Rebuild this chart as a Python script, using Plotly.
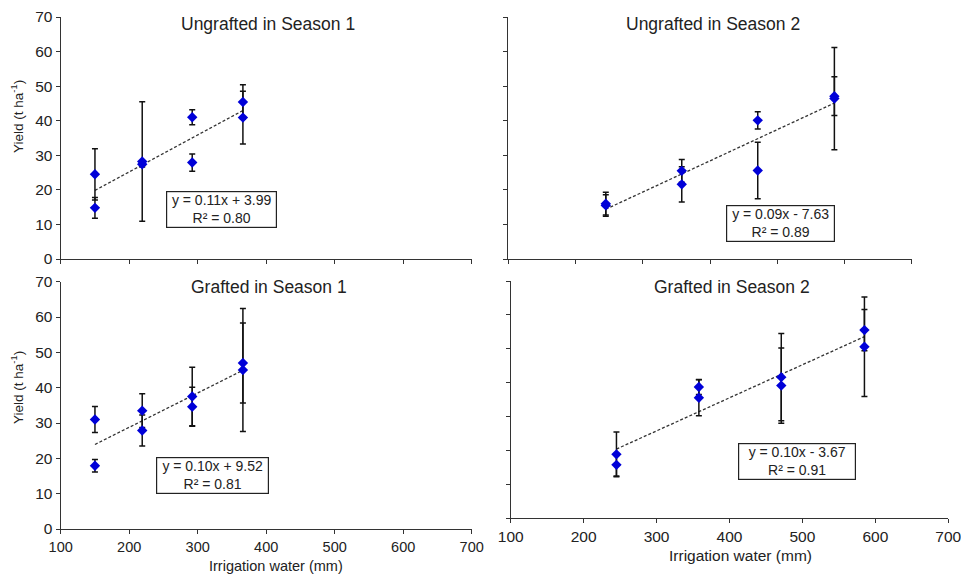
import numpy as np
import plotly.graph_objects as go

# ---------------- data ----------------
season1_x = [150, 150, 219, 219, 292, 292, 366, 366]
season2_x = [245, 245, 358, 358, 471, 471, 585, 585]

ungrafted_s1_y = [24.5, 14.8, 28.2, 27.4, 41.0, 27.9, 45.4, 40.9]
ungrafted_s1_err = [7.4, 3.0, 17.3, 0.8, 2.2, 2.5, 5.0, 7.6]

ungrafted_s2_y = [16.0, 15.5, 25.5, 21.6, 40.1, 25.6, 46.4, 47.1]
ungrafted_s2_err = [3.3, 3.1, 3.3, 5.1, 2.5, 8.2, 14.8, 5.6]

grafted_s1_y = [31.0, 17.9, 33.5, 27.9, 37.5, 34.6, 47.0, 45.0]
grafted_s1_err = [3.7, 1.8, 4.8, 4.4, 8.3, 5.5, 11.3, 17.4]

grafted_s2_y = [18.8, 15.7, 38.7, 35.5, 41.6, 39.1, 55.5, 50.6]
grafted_s2_err = [6.6, 3.3, 2.2, 5.3, 12.9, 11.1, 6.1, 14.7]

panel_titles = ["Ungrafted in Season 1", "Ungrafted in Season 2",
                "Grafted in Season 1", "Grafted in Season 2"]
equations = ["y = 0.11x + 3.99<br>R² = 0.80",
             "y = 0.09x - 7.63<br>R² = 0.89",
             "y = 0.10x + 9.52<br>R² = 0.81",
             "y = 0.10x - 3.67<br>R² = 0.91"]
x_ticks = [100, 200, 300, 400, 500, 600, 700]
y_ticks = [0, 10, 20, 30, 40, 50, 60, 70]

# ---------------- layout helpers ----------------
W, H = 961, 574
FONT = "Liberation Sans, Arial, sans-serif"
TXT = "#222222"


def px_x(p):
    return p / W


def px_y(p):
    return 1 - p / H


# panel pixel boxes (left, right, top, bottom)
boxes = [
    (60.7, 471.7, 17.0, 259.0),
    (508.3, 911.7, 17.0, 259.0),
    (60.7, 471.7, 281.7, 529.0),
    (510.7, 948.3, 281.0, 518.0),
]

panels = [
    (season1_x, ungrafted_s1_y, ungrafted_s1_err),
    (season2_x, ungrafted_s2_y, ungrafted_s2_err),
    (season1_x, grafted_s1_y, grafted_s1_err),
    (season2_x, grafted_s2_y, grafted_s2_err),
]

fig = go.Figure()

for i, (xs, ys, es) in enumerate(panels):
    n = "" if i == 0 else str(i + 1)
    xa, ya = "x" + n, "y" + n
    coef = np.polyfit(xs, ys, 1)
    xl = [min(xs), max(xs)]
    yl = [coef[0] * v + coef[1] for v in xl]
    fig.add_trace(go.Scatter(x=xl, y=yl, mode="lines", xaxis=xa, yaxis=ya,
                             line=dict(color="#333333", width=1.3, dash="3px,2px"),
                             hoverinfo="skip"))
    fig.add_trace(go.Scatter(x=xs, y=ys, mode="markers", xaxis=xa, yaxis=ya,
                             marker=dict(symbol="diamond", size=8, color="#0000D8"),
                             error_y=dict(type="data", array=es, visible=True,
                                          color="#111111", thickness=1.5, width=3)))

layout = dict(width=W, height=H,
              margin=dict(l=0, r=0, t=0, b=0, pad=0, autoexpand=False),
              paper_bgcolor="white", plot_bgcolor="white", showlegend=False,
              font=dict(family=FONT, color=TXT))

xtick_sizes = [14.5, 14.5, 14.5, 15.5]
for i, (l, r, t, b) in enumerate(boxes):
    n = "" if i == 0 else str(i + 1)
    common = dict(showline=True, linecolor="#333333", linewidth=1.3,
                  ticks="outside", ticklen=4, tickcolor="#333333", tickwidth=1.3,
                  showgrid=False, zeroline=False, fixedrange=True, automargin=False,
                  ticklabeloverflow="allow")
    layout["xaxis" + n] = dict(domain=[px_x(l), px_x(r)], anchor="y" + n,
                               range=[100, 700], tickvals=x_ticks,
                               showticklabels=(i >= 2),
                               tickfont=dict(size=xtick_sizes[i], color=TXT),
                               **common)
    layout["yaxis" + n] = dict(domain=[px_y(b), px_y(t)], anchor="x" + n,
                               range=[0, 70], tickvals=y_ticks,
                               showticklabels=(i % 2 == 0),
                               tickfont=dict(size=15.5, color=TXT),
                               **common)

fig.update_layout(**layout)

annotations = []

# panel titles
title_pos = [(268, 24), (713, 24), (269, 287), (732, 287)]
for txt, (x, y) in zip(panel_titles, title_pos):
    annotations.append(dict(text=txt, x=px_x(x), y=px_y(y), xref="paper", yref="paper",
                            showarrow=False, xanchor="center", yanchor="middle",
                            font=dict(size=17.5, family=FONT, color=TXT)))

# axis titles
for (x, y) in [(17, 117), (17, 388)]:
    annotations.append(dict(text="Yield (t ha<sup>-1</sup>)", x=px_x(x), y=px_y(y),
                            xref="paper", yref="paper", showarrow=False, textangle=-90,
                            xanchor="center", yanchor="middle",
                            font=dict(size=13.5, family=FONT, color=TXT)))
for (x, y, s) in [(276, 566, 14.5), (740, 555, 15.5)]:
    annotations.append(dict(text="Irrigation water (mm)", x=px_x(x), y=px_y(y),
                            xref="paper", yref="paper", showarrow=False,
                            xanchor="center", yanchor="middle",
                            font=dict(size=s, family=FONT, color=TXT)))

# equation boxes (left, right, top, bottom)
eq_boxes = [(166, 277, 193, 226), (726, 835, 206, 241),
            (156, 269, 459, 492), (738, 856, 444, 479)]
for txt, (l, r, t, b) in zip(equations, eq_boxes):
    cx = (l + r) / 2
    cy = (t + b) / 2
    annotations.append(dict(text=txt, x=px_x(cx), y=px_y(cy), xref="paper",
                            yref="paper", showarrow=False, xanchor="center",
                            yanchor="middle", align="center",
                            width=r - l - 2, borderpad=0,
                            bordercolor="#222222", borderwidth=1.2, bgcolor="white",
                            font=dict(size=14, family=FONT, color=TXT)))

fig.update_layout(annotations=annotations)
fig.write_html("out.html")
